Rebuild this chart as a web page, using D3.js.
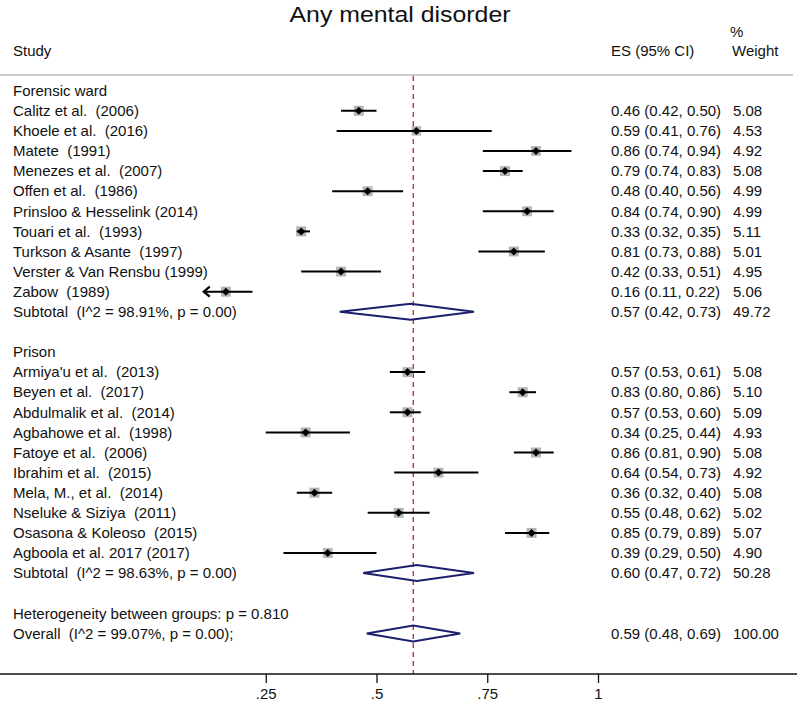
<!DOCTYPE html>
<html>
<head>
<meta charset="utf-8">
<script src="https://cdn.jsdelivr.net/npm/d3@7"></script>
<style>
  body { margin: 0; background: #fff; }
  text { font-family: "Liberation Sans", Arial, Helvetica, sans-serif; fill: #111; white-space: pre; }
</style>
</head>
<body>
<div id="chart"></div>
<script>
// forensic ward studies
var forensicNames = ["Calitz et al.  (2006)", "Khoele et al.  (2016)", "Matete  (1991)", "Menezes et al.  (2007)",
  "Offen et al.  (1986)", "Prinsloo & Hesselink (2014)", "Touari et al.  (1993)", "Turkson & Asante  (1997)",
  "Verster & Van Rensbu (1999)", "Zabow  (1989)"];
var forensicES = [0.46, 0.59, 0.86, 0.79, 0.48, 0.84, 0.33, 0.81, 0.42, 0.16];
var forensicLo = [0.42, 0.41, 0.74, 0.74, 0.40, 0.74, 0.32, 0.73, 0.33, 0.11];
var forensicHi = [0.50, 0.76, 0.94, 0.83, 0.56, 0.90, 0.35, 0.88, 0.51, 0.22];
var forensicWt = [5.08, 4.53, 4.92, 5.08, 4.99, 4.99, 5.11, 5.01, 4.95, 5.06];

// prison studies
var prisonNames = ["Armiya'u et al.  (2013)", "Beyen et al.  (2017)", "Abdulmalik et al.  (2014)", "Agbahowe et al.  (1998)",
  "Fatoye et al.  (2006)", "Ibrahim et al.  (2015)", "Mela, M., et al.  (2014)", "Nseluke & Siziya  (2011)",
  "Osasona & Koleoso  (2015)", "Agboola et al. 2017 (2017)"];
var prisonES = [0.57, 0.83, 0.57, 0.34, 0.86, 0.64, 0.36, 0.55, 0.85, 0.39];
var prisonLo = [0.53, 0.80, 0.53, 0.25, 0.81, 0.54, 0.32, 0.48, 0.79, 0.29];
var prisonHi = [0.61, 0.86, 0.60, 0.44, 0.90, 0.73, 0.40, 0.62, 0.89, 0.50];
var prisonWt = [5.08, 5.10, 5.09, 4.93, 5.08, 4.92, 5.08, 5.02, 5.07, 4.90];

// pooled estimates: forensic subtotal, prison subtotal, overall
var pooledLabels = ["Subtotal  (I^2 = 98.91%, p = 0.00)", "Subtotal  (I^2 = 98.63%, p = 0.00)", "Overall  (I^2 = 99.07%, p = 0.00);"];
var pooledES = [0.577, 0.591, 0.583];
var pooledLo = [0.417, 0.47, 0.478];
var pooledHi = [0.72, 0.72, 0.689];
var pooledText = ["0.57 (0.42, 0.73)", "0.60 (0.47, 0.72)", "0.59 (0.48, 0.69)"];
var pooledWt = ["49.72", "50.28", "100.00"];

var xTicks = [0.25, 0.5, 0.75, 1];
var xTickLabels = [".25", ".5", ".75", "1"];
var xMin = 0.11;

var width = 797, height = 704;
var fs = "15px";
var svg = d3.select("#chart").append("svg")
    .attr("width", width)
    .attr("height", height);

var x = d3.scaleLinear().domain([0, 1]).range([155, 598]);
var y = d3.scaleLinear().domain([0, 27]).range([90.7, 633.4]);
var boxSize = d3.scaleSqrt().domain([0, 5.1]).range([0, 10]);

// build rows
var rows = [];
rows.push({type: "head", label: "Forensic ward"});
forensicNames.forEach(function (n, i) {
  rows.push({type: "study", label: n, es: forensicES[i], lo: forensicLo[i], hi: forensicHi[i], wt: forensicWt[i]});
});
rows.push({type: "pool", p: 0});
rows.push({type: "blank"});
rows.push({type: "head", label: "Prison"});
prisonNames.forEach(function (n, i) {
  rows.push({type: "study", label: n, es: prisonES[i], lo: prisonLo[i], hi: prisonHi[i], wt: prisonWt[i]});
});
rows.push({type: "pool", p: 1});
rows.push({type: "blank"});
rows.push({type: "head", label: "Heterogeneity between groups: p = 0.810"});
rows.push({type: "pool", p: 2});
rows.forEach(function (r, i) { r.idx = i; });

// title (slightly wide lettering, as in the original) and header
svg.append("text").attr("transform", "translate(400,14) scale(1.13,1)").attr("dy", "0.35em")
    .attr("text-anchor", "middle").style("font-size", "22px").text("Any mental disorder");
svg.append("text").attr("x", 13).attr("y", 50.7).attr("dy", "0.35em").style("font-size", fs).text("Study");
svg.append("text").attr("x", 611).attr("y", 50.7).attr("dy", "0.35em").style("font-size", fs).text("ES (95% CI)");
svg.append("text").attr("x", 730).attr("y", 31.7).attr("dy", "0.35em").style("font-size", fs).text("%");
svg.append("text").attr("x", 732).attr("y", 50.7).attr("dy", "0.35em").style("font-size", fs).text("Weight");
svg.append("line").attr("x1", 0).attr("x2", 793).attr("y1", 75).attr("y2", 75)
    .style("stroke", "#bdbdbd").style("stroke-width", 1.5);

// reference line at overall estimate
svg.append("line")
    .attr("x1", x(pooledES[2])).attr("x2", x(pooledES[2]))
    .attr("y1", 76).attr("y2", 674)
    .style("stroke", "#a8303a").style("stroke-width", 1.3)
    .style("stroke-dasharray", "5,4");

// labels
var g = svg.append("g");
rows.forEach(function (r) {
  var yy = y(r.idx);
  if (r.type == "blank") return;
  var label = r.type == "pool" ? pooledLabels[r.p] : r.label;
  g.append("text").attr("x", 13).attr("y", yy).attr("dy", "0.35em").style("font-size", fs).text(label);
  if (r.type == "study") {
    g.append("text").attr("x", 611).attr("y", yy).attr("dy", "0.35em").style("font-size", fs)
        .text(r.es.toFixed(2) + " (" + r.lo.toFixed(2) + ", " + r.hi.toFixed(2) + ")");
    g.append("text").attr("x", 733).attr("y", yy).attr("dy", "0.35em").style("font-size", fs)
        .text(r.wt.toFixed(2));
  } else if (r.type == "pool") {
    g.append("text").attr("x", 611).attr("y", yy).attr("dy", "0.35em").style("font-size", fs).text(pooledText[r.p]);
    g.append("text").attr("x", 733).attr("y", yy).attr("dy", "0.35em").style("font-size", fs).text(pooledWt[r.p]);
  }
});

// study marks
var studyRows = rows.filter(function (r) { return r.type == "study"; });
var marks = svg.selectAll("g.study").data(studyRows).enter().append("g").attr("class", "study");

marks.append("rect")
    .attr("x", function (d) { return x(d.es) - boxSize(d.wt) / 2; })
    .attr("y", function (d) { return y(d.idx) - boxSize(d.wt) / 2; })
    .attr("width", function (d) { return boxSize(d.wt); })
    .attr("height", function (d) { return boxSize(d.wt); })
    .style("fill", "#b4b4b4");

marks.append("line")
    .attr("x1", function (d) { return x(Math.max(d.lo, xMin)); })
    .attr("x2", function (d) { return x(d.hi); })
    .attr("y1", function (d) { return y(d.idx); })
    .attr("y2", function (d) { return y(d.idx); })
    .style("stroke", "#000").style("stroke-width", 2);

marks.append("path")
    .attr("d", function (d) {
      var cx = x(d.es), cy = y(d.idx);
      return "M" + (cx - 4) + "," + cy + "L" + cx + "," + (cy - 4) + "L" + (cx + 4) + "," + cy + "L" + cx + "," + (cy + 4) + "Z";
    })
    .style("fill", "#000");

// arrow for truncated CI
marks.filter(function (d) { return d.lo <= xMin; }).append("path")
    .attr("d", function (d) {
      var tx = x(xMin), cy = y(d.idx);
      return "M" + (tx + 6) + "," + (cy - 5) + "L" + tx + "," + cy + "L" + (tx + 6) + "," + (cy + 5);
    })
    .style("fill", "none").style("stroke", "#000").style("stroke-width", 2.2);

// pooled diamonds
var poolRows = rows.filter(function (r) { return r.type == "pool"; });
svg.selectAll("path.pool").data(poolRows).enter().append("path")
    .attr("class", "pool")
    .attr("d", function (d) {
      var cy = y(d.idx);
      return "M" + x(pooledLo[d.p]) + "," + cy + "L" + x(pooledES[d.p]) + "," + (cy - 8) +
             "L" + x(pooledHi[d.p]) + "," + cy + "L" + x(pooledES[d.p]) + "," + (cy + 8) + "Z";
    })
    .style("fill", "none").style("stroke", "#1b1f6e").style("stroke-width", 2);

// axis
var axis = svg.append("g").attr("transform", "translate(0,674)");
axis.append("line").attr("x1", 0).attr("x2", 797).attr("y1", 0).attr("y2", 0)
    .style("stroke", "#111").style("stroke-width", 1.3);
axis.call(d3.axisBottom(x).tickValues(xTicks).tickSize(9).tickPadding(5)
    .tickFormat(function (d, i) { return xTickLabels[i]; }));
axis.select(".domain").remove();
axis.selectAll(".tick line").style("stroke", "#111").style("stroke-width", 1.3);
axis.selectAll(".tick text").style("font-size", fs)
    .style("font-family", "'Liberation Sans', Arial, sans-serif").attr("fill", "#111");
</script>
</body>
</html>
